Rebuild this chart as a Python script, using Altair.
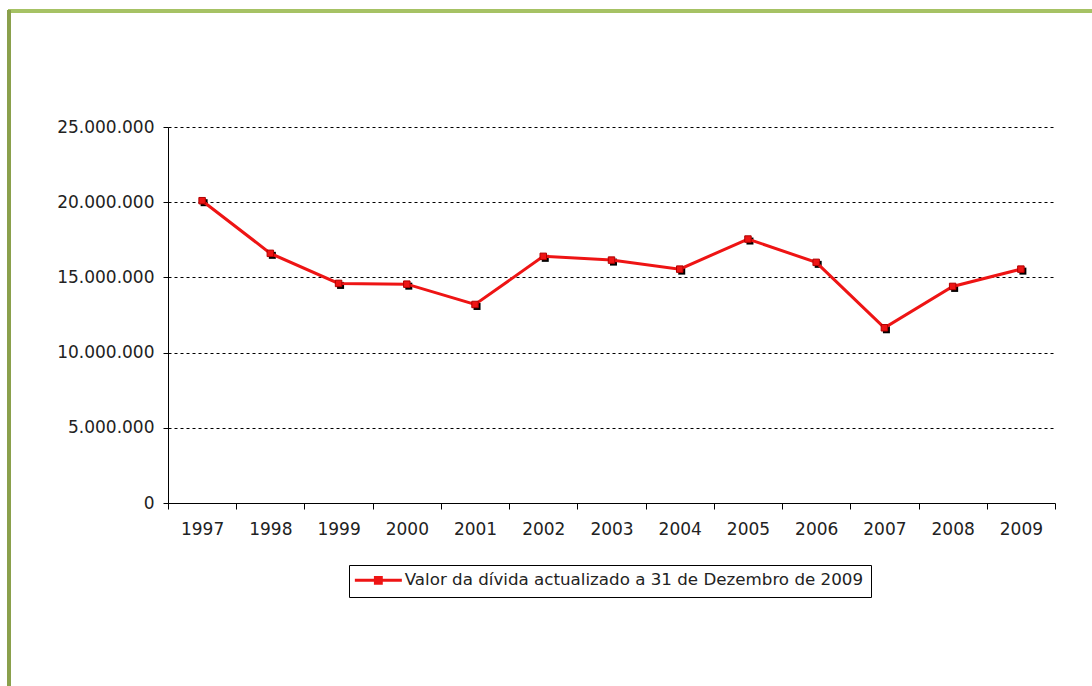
import altair as alt
import pandas as pd

# Debt value per year (euros), updated to 31 December 2009
years = ["1997", "1998", "1999", "2000", "2001", "2002", "2003",
         "2004", "2005", "2006", "2007", "2008", "2009"]
values = [20100000, 16600000, 14600000, 14550000, 13200000, 16400000, 16150000,
          15550000, 17550000, 16000000, 11650000, 14400000, 15550000]
series_name = "Valor da dívida actualizado a 31 de Dezembro de 2009"
y_ticks = [0, 5000000, 10000000, 15000000, 20000000, 25000000]

df = pd.DataFrame({"ano": years, "valor": values, "serie": series_name})

FONT = "DejaVu Sans"
RED = "#ee1414"
GREEN_TOP = "#a6c265"
GREEN_LEFT = "#8aa04c"

W, H = 887, 376

x_enc = alt.X(
    "ano:N",
    sort=years,
    scale=alt.Scale(paddingInner=0, paddingOuter=0),
    axis=alt.Axis(
        title=None, labelAngle=0, tickBand="extent", tickSize=6,
        labelPadding=12, labelFontSize=17, labelFont=FONT, labelColor="#222",
        domainColor="black", tickColor="black", grid=False,
    ),
)
y_enc = alt.Y(
    "valor:Q",
    scale=alt.Scale(domain=[0, 25000000], nice=False),
    axis=alt.Axis(
        title=None, values=y_ticks, tickSize=5, labelPadding=9,
        labelFontSize=17, labelFont=FONT, labelColor="#222",
        labelExpr="replace(format(datum.value, ',d'), /,/g, '.')",
        domainColor="black", tickColor="black",
        grid=True, gridColor="black", gridDash=[3, 3], gridWidth=1,
    ),
)

base = alt.Chart(df).encode(x=x_enc, y=y_enc)

# Legend symbol: a short line with a square marker in the middle
legend = alt.Legend(
    title=None, orient="none", legendX=181, legendY=438,
    direction="horizontal",
    symbolType="M-4,0H4M-0.5,-0.5H0.5V0.5H-0.5Z",
    symbolSize=138, symbolStrokeWidth=3, symbolFillColor=RED,
    symbolStrokeColor=RED, symbolOffset=14,
    labelFont=FONT, labelFontSize=16.7,
    labelColor="#222", labelLimit=0, labelOffset=18,
    strokeColor="black", fillColor="white", padding=7,
)

line = base.mark_line(strokeWidth=3).encode(
    color=alt.Color("serie:N", scale=alt.Scale(range=[RED]), legend=legend)
)
shadow = base.mark_square(size=49, color="black", opacity=1, xOffset=2, yOffset=2)
markers = base.mark_square(size=42, color=RED, opacity=1, stroke="#b00000", strokeWidth=1)

# Green frame around the chart area
frame_top = alt.Chart(df).mark_rule(color=GREEN_TOP, strokeWidth=3).encode(
    x=alt.value(-160), x2=alt.value(W + 40), y=alt.value(-116)
)
frame_left = alt.Chart(df).mark_rule(color=GREEN_LEFT, strokeWidth=3).encode(
    x=alt.value(-159), y=alt.value(-117), y2=alt.value(H + 190)
)

chart = alt.layer(frame_top, frame_left, shadow, line, markers).properties(
    width=W, height=H,
    autosize=alt.AutoSizeParams(type="none"),
    padding={"left": 168, "top": 127, "right": 37, "bottom": 183},
    background="white",
).configure_view(stroke=None)

chart.save("out.html", embed_options={"renderer": "svg", "actions": False})
